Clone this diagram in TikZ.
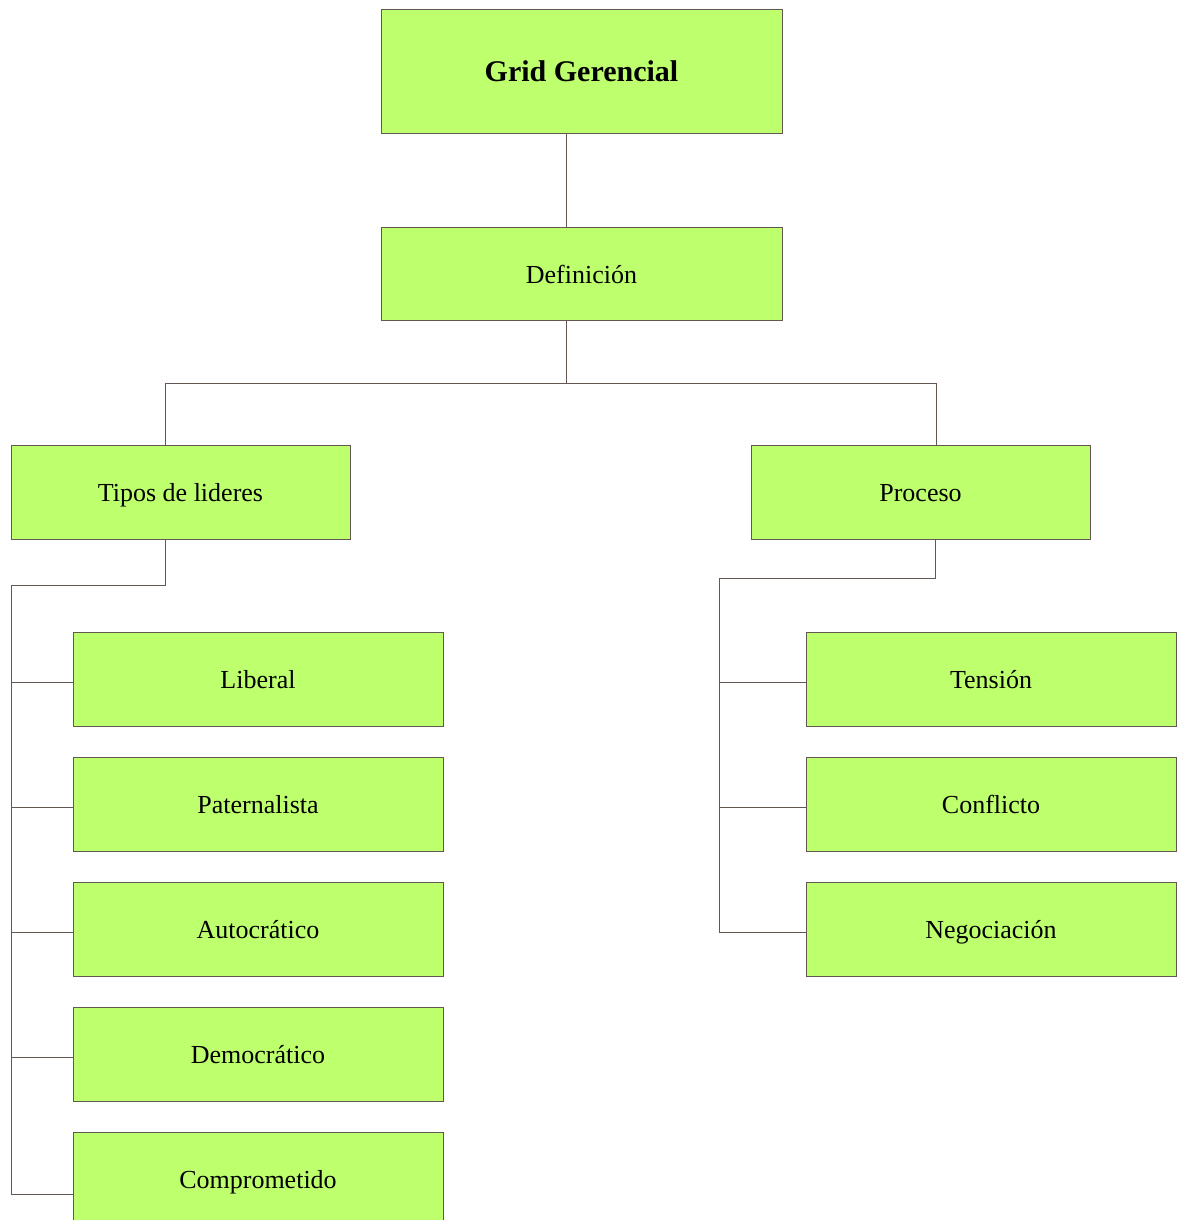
\documentclass[tikz,border=0pt]{standalone}
\usepackage{fontspec}
\setmainfont{Liberation Serif}
\definecolor{boxfill}{RGB}{190,255,110}
\definecolor{edge}{RGB}{100,86,80}
\begin{document}
\begin{tikzpicture}[x=1pt,y=1pt,
  box/.style={draw=edge,fill=boxfill,line width=0.9pt,rectangle,inner sep=0pt,
    text height=21pt,text depth=2pt,font=\fontsize{26}{30}\selectfont},
  wide/.style={box,minimum width=401pt,minimum height=94pt},
  mid/.style={box,minimum width=339pt,minimum height=94pt},
  leaf/.style={box,minimum width=370pt,minimum height=94pt},
  link/.style={draw=edge,line width=0.9pt}]
\useasboundingbox (0,0) rectangle (1183,-1220);
\begin{scope}
\clip (0,0) rectangle (1183,-1220);
% top levels
\node[wide,minimum height=124pt,text height=24pt,text depth=2pt,
  font=\bfseries\fontsize{30}{34}\selectfont] (grid) at (581.5,-71) {Grid Gerencial};
\node[wide,minimum height=93pt] (def) at (581.5,-273.5) {Definición};
\node[mid] (tipos) at (180.5,-492) {Tipos de lideres};
\node[mid] (proc) at (920.5,-492) {Proceso};
% leader types
\node[leaf] (lib) at (258,-679) {Liberal};
\node[leaf] (pat) at (258,-804) {Paternalista};
\node[leaf] (aut) at (258,-929) {Autocrático};
\node[leaf] (dem) at (258,-1054) {Democrático};
\node[leaf] (comp) at (258,-1179) {Comprometido};
% process stages
\node[leaf] (ten) at (991,-679) {Tensión};
\node[leaf] (con) at (991,-804) {Conflicto};
\node[leaf] (neg) at (991,-929) {Negociación};
% junction points
\coordinate (jd) at (566,-383);
\coordinate (tl) at (11,-585);
\coordinate (tb) at (11,-1194);
\coordinate (pl) at (719,-578);
\coordinate (pb) at (719,-932);
% connectors
\draw[link] ([xshift=-15.5pt]grid.south) -- ([xshift=-15.5pt]def.north);
\draw[link] ([xshift=-15.5pt]def.south) -- (jd);
\draw[link] (jd) -| ([xshift=-15.5pt]tipos.north);
\draw[link] (jd) -| ([xshift=15.5pt]proc.north);
\draw[link] ([xshift=-15.5pt]tipos.south) |- (tl) -- (tb) -- (tb -| comp.west);
\foreach \n in {lib,pat,aut,dem}
  \draw[link] ([yshift=-3pt]\n.west) -- ([yshift=-3pt]\n.west -| tl);
\draw[link] ([xshift=14.5pt]proc.south) |- (pl) -- (pb) -- (pb -| neg.west);
\foreach \n in {ten,con}
  \draw[link] ([yshift=-3pt]\n.west) -- ([yshift=-3pt]\n.west -| pl);
\end{scope}
\end{tikzpicture}
\end{document}
